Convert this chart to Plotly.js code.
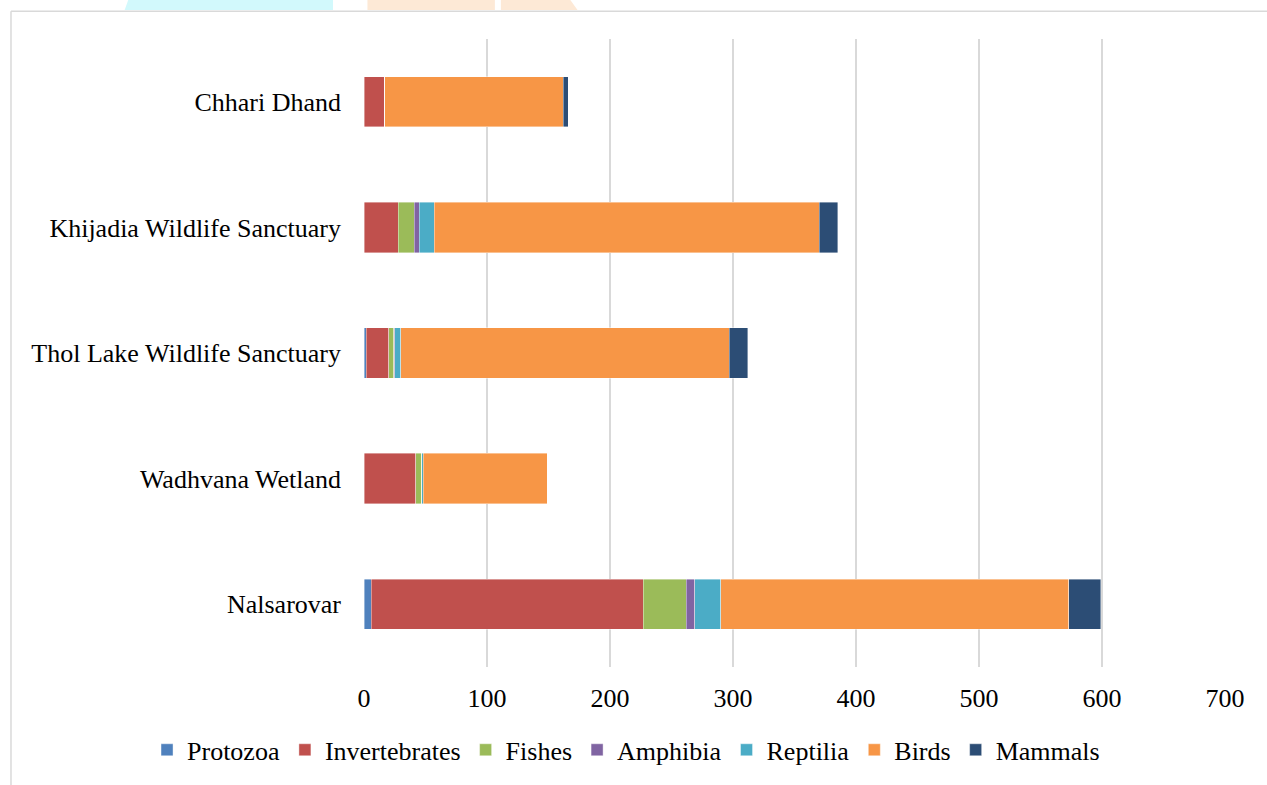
<!DOCTYPE html>
<html>
<head>
<meta charset="utf-8">
<script src="https://cdn.plot.ly/plotly-3.0.1.min.js"></script>
<style>
html,body{margin:0;padding:0;background:#fff;}
#chart{width:1267px;height:785px;}
</style>
</head>
<body>
<div id="chart"></div>
<script>
const sites = ["Nalsarovar", "Wadhvana Wetland", "Thol Lake Wildlife Sanctuary", "Khijadia Wildlife Sanctuary", "Chhari Dhand"];
const protozoa      = [6,   0,   2,   0,   0];
const invertebrates = [221, 42,  18,  28,  17];
const fishes        = [35,  5,   4,   13,  0];
const amphibia      = [7,   0,   1,   4,   0];
const reptilia      = [21,  1,   5,   12,  0];
const birds         = [283, 101, 267, 313, 145];
const mammals       = [26,  0,   15,  15,  4];
const xTicks = [0, 100, 200, 300, 400, 500, 600, 700];

const seriesNames = ["Protozoa", "Invertebrates", "Fishes", "Amphibia", "Reptilia", "Birds", "Mammals"];
const seriesVals = [protozoa, invertebrates, fishes, amphibia, reptilia, birds, mammals];
const colors = ["#4f81bd", "#c0504d", "#9bbb59", "#8064a2", "#4bacc6", "#f79646", "#2c4d75"];

const traces = seriesNames.map((n, i) => ({
  type: "bar",
  orientation: "h",
  name: n,
  y: sites,
  x: seriesVals[i],
  marker: {color: colors[i], line: {color: "rgba(255,255,255,0.5)", width: 0.8}},
  width: 0.4,
  hoverinfo: "x+name"
}));

const font = "Liberation Serif";
const fnt = {family: font, size: 26, color: "#000"};
const layout = {
  width: 1267, height: 785,
  barmode: "stack",
  paper_bgcolor: "#ffffff",
  plot_bgcolor: "#ffffff",
  margin: {l: 364, r: 42, t: 39, b: 116},
  font: fnt,
  xaxis: {
    range: [0, 700],
    tickvals: xTicks,
    ticktext: xTicks.map(String),
    showgrid: true, gridcolor: "#d9d9d9", gridwidth: 1.5,
    zeroline: false, showline: false, ticks: "",
    ticklabelstandoff: 13,
    tickfont: fnt,
    fixedrange: true
  },
  yaxis: {
    type: "category",
    categoryorder: "array", categoryarray: sites,
    range: [-0.5, 4.5],
    showgrid: false, zeroline: false, showline: false, ticks: "",
    ticklabelstandoff: 22,
    tickfont: fnt,
    fixedrange: true
  },
  showlegend: true,
  legend: {
    orientation: "h",
    xref: "paper", yref: "paper",
    x: -0.252, xanchor: "left",
    y: -0.132, yanchor: "middle",
    font: {family: font, size: 26, color: "#000"},
    itemwidth: 30,
    tracegroupgap: 0,
    traceorder: "normal",
    bgcolor: "rgba(0,0,0,0)"
  },
  shapes: [
    {type: "path", xref: "paper", yref: "paper", layer: "above",
     path: "M -0.278 1.046 L -0.264 1.1 L -0.036 1.1 L -0.036 1.046 Z",
     fillcolor: "#d2f9fc", line: {width: 0}},
    {type: "path", xref: "paper", yref: "paper", layer: "above",
     path: "M 0.004 1.046 L 0.004 1.1 L 0.152 1.1 L 0.152 1.046 Z",
     fillcolor: "#fde9d6", line: {width: 0}},
    {type: "path", xref: "paper", yref: "paper", layer: "above",
     path: "M 0.159 1.046 L 0.159 1.1 L 0.22 1.1 L 0.248 1.046 Z",
     fillcolor: "#fde9d6", line: {width: 0}},
    {type: "line", xref: "paper", yref: "paper", layer: "above",
     x0: -0.410, x1: 1.1, y0: 1.044, y1: 1.044,
     line: {color: "#d9d9d9", width: 1.5}},
    {type: "line", xref: "paper", yref: "paper", layer: "above",
     x0: -0.410, x1: -0.410, y0: 1.044, y1: -0.2,
     line: {color: "#d9d9d9", width: 1.5}}
  ]
};

Plotly.newPlot("chart", traces, layout, {displayModeBar: false, staticPlot: true});
</script>
</body>
</html>
